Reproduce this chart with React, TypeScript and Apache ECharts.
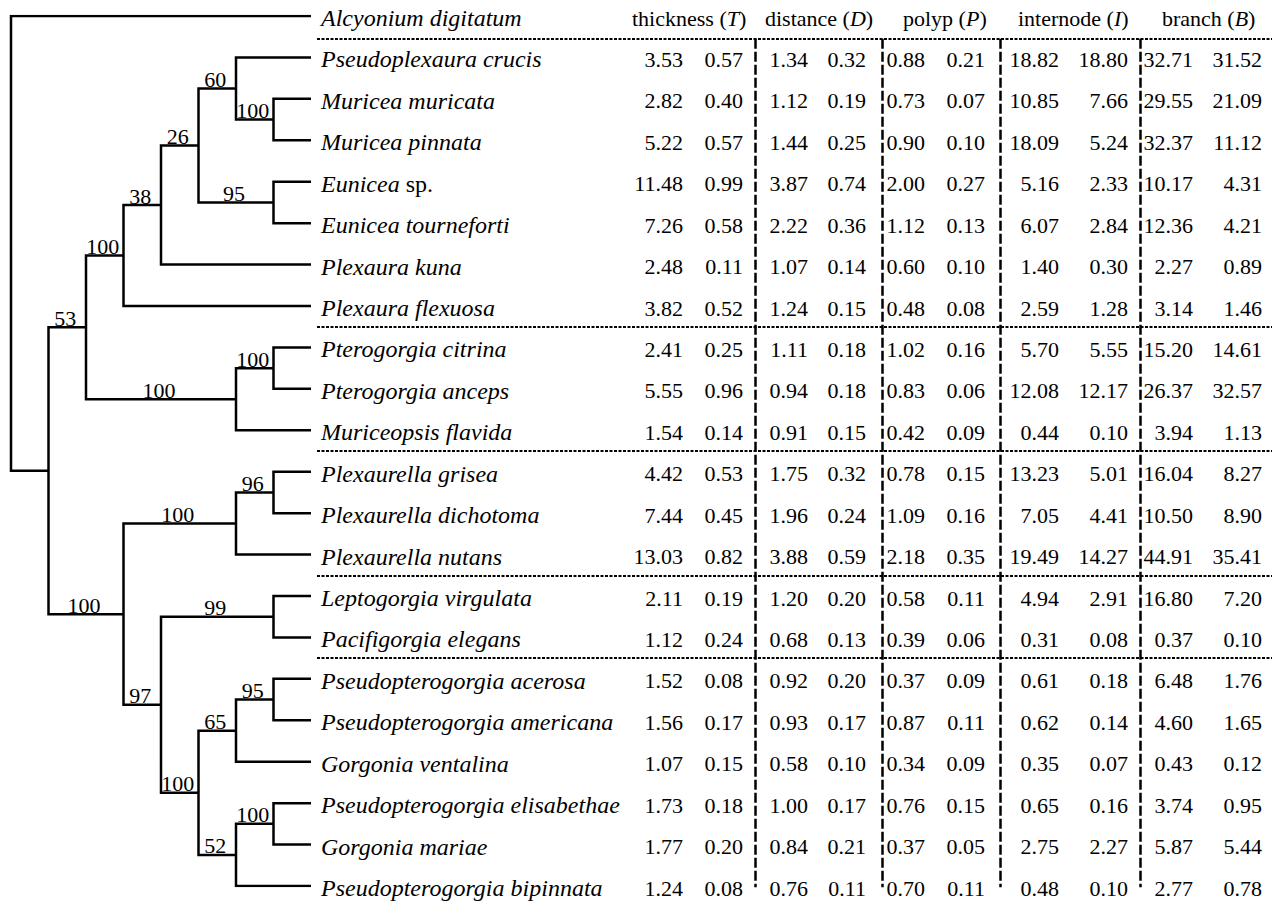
import React, { useEffect, useRef } from 'react';
import * as echarts from 'echarts';

// ---------- data ----------
const species = [
  'Alcyonium digitatum',
  'Pseudoplexaura crucis',
  'Muricea muricata',
  'Muricea pinnata',
  'Eunicea sp.',
  'Eunicea tourneforti',
  'Plexaura kuna',
  'Plexaura flexuosa',
  'Pterogorgia citrina',
  'Pterogorgia anceps',
  'Muriceopsis flavida',
  'Plexaurella grisea',
  'Plexaurella dichotoma',
  'Plexaurella nutans',
  'Leptogorgia virgulata',
  'Pacifigorgia elegans',
  'Pseudopterogorgia acerosa',
  'Pseudopterogorgia americana',
  'Gorgonia ventalina',
  'Pseudopterogorgia elisabethae',
  'Gorgonia mariae',
  'Pseudopterogorgia bipinnata',
];

const headerNames = ['thickness', 'distance', 'polyp', 'internode', 'branch'];
const headerSymbols = ['T', 'D', 'P', 'I', 'B'];

// rows 1..21 (Alcyonium has no values)
const thicknessMean = [3.53, 2.82, 5.22, 11.48, 7.26, 2.48, 3.82, 2.41, 5.55, 1.54, 4.42, 7.44, 13.03, 2.11, 1.12, 1.52, 1.56, 1.07, 1.73, 1.77, 1.24];
const thicknessSD = [0.57, 0.40, 0.57, 0.99, 0.58, 0.11, 0.52, 0.25, 0.96, 0.14, 0.53, 0.45, 0.82, 0.19, 0.24, 0.08, 0.17, 0.15, 0.18, 0.20, 0.08];
const distanceMean = [1.34, 1.12, 1.44, 3.87, 2.22, 1.07, 1.24, 1.11, 0.94, 0.91, 1.75, 1.96, 3.88, 1.20, 0.68, 0.92, 0.93, 0.58, 1.00, 0.84, 0.76];
const distanceSD = [0.32, 0.19, 0.25, 0.74, 0.36, 0.14, 0.15, 0.18, 0.18, 0.15, 0.32, 0.24, 0.59, 0.20, 0.13, 0.20, 0.17, 0.10, 0.17, 0.21, 0.11];
const polypMean = [0.88, 0.73, 0.90, 2.00, 1.12, 0.60, 0.48, 1.02, 0.83, 0.42, 0.78, 1.09, 2.18, 0.58, 0.39, 0.37, 0.87, 0.34, 0.76, 0.37, 0.70];
const polypSD = [0.21, 0.07, 0.10, 0.27, 0.13, 0.10, 0.08, 0.16, 0.06, 0.09, 0.15, 0.16, 0.35, 0.11, 0.06, 0.09, 0.11, 0.09, 0.15, 0.05, 0.11];
const internodeMean = [18.82, 10.85, 18.09, 5.16, 6.07, 1.40, 2.59, 5.70, 12.08, 0.44, 13.23, 7.05, 19.49, 4.94, 0.31, 0.61, 0.62, 0.35, 0.65, 2.75, 0.48];
const internodeSD = [18.80, 7.66, 5.24, 2.33, 2.84, 0.30, 1.28, 5.55, 12.17, 0.10, 5.01, 4.41, 14.27, 2.91, 0.08, 0.18, 0.14, 0.07, 0.16, 2.27, 0.10];
const branchMean = [32.71, 29.55, 32.37, 10.17, 12.36, 2.27, 3.14, 15.20, 26.37, 3.94, 16.04, 10.50, 44.91, 16.80, 0.37, 6.48, 4.60, 0.43, 3.74, 5.87, 2.77];
const branchSD = [31.52, 21.09, 11.12, 4.31, 4.21, 0.89, 1.46, 14.61, 32.57, 1.13, 8.27, 8.90, 35.41, 7.20, 0.10, 1.76, 1.65, 0.12, 0.95, 5.44, 0.78];

// tree: leaves are indices into species, s = bootstrap support
type TNode = number | { s?: number; c: TNode[] };
const tree: TNode = {
  c: [
    0,
    {
      c: [
        {
          s: 53,
          c: [
            {
              s: 100,
              c: [
                {
                  s: 38,
                  c: [
                    {
                      s: 26,
                      c: [
                        { s: 60, c: [1, { s: 100, c: [2, 3] }] },
                        { s: 95, c: [4, 5] },
                      ],
                    },
                    6,
                  ],
                },
                7,
              ],
            },
            { s: 100, c: [{ s: 100, c: [8, 9] }, 10] },
          ],
        },
        {
          s: 100,
          c: [
            { s: 100, c: [{ s: 96, c: [11, 12] }, 13] },
            {
              s: 97,
              c: [
                { s: 99, c: [14, 15] },
                {
                  s: 100,
                  c: [
                    { s: 65, c: [{ s: 95, c: [16, 17] }, 18] },
                    { s: 52, c: [{ s: 100, c: [19, 20] }, 21] },
                  ],
                },
              ],
            },
          ],
        },
      ],
    },
  ],
};

// ---------- layout constants (pixels) ----------
const W = 1283;
const H = 911;
const FONT = 'Liberation Serif';
const NAME_SIZE = 24;
const NUM_SIZE = 22;
const NAME_X = 321;
const HEADER_X = [632, 765, 903, 1018, 1162];
const COL_RIGHT = [683, 743, 808, 866, 925, 985, 1059, 1128, 1193, 1262];
const VLINE_X = [755, 882, 1000, 1140];
const HLINE_LEFT = 317;
const HLINE_RIGHT = 1272;
const HEADER_LINE_ROW = 0.55;
const GROUP_LINE_ROWS = [7.5, 10.5, 13.5, 15.5, 21.5];
const TEXT_DY = 2;

// ---------- tree layout ----------
function heightOf(n: TNode): number {
  if (typeof n === 'number') return 0;
  return 1 + Math.max(...n.c.map(heightOf));
}
const TREE_H = heightOf(tree);
const branches: { coords: number[][] }[] = [];
const supports: number[][] = [];
function walk(n: TNode, px: number | null): { x: number; y: number } {
  if (typeof n === 'number') return { x: TREE_H, y: n };
  const x = TREE_H - heightOf(n);
  const kids = n.c.map((k) => walk(k, x));
  const a = kids[0];
  const b = kids[kids.length - 1];
  const y = (a.y + b.y) / 2;
  branches.push({ coords: [[a.x, a.y], [x, a.y], [x, b.y], [b.x, b.y]] });
  if (n.s != null && px != null) supports.push([(px + x) / 2, y, n.s]);
  return { x, y };
}
walk(tree, null);

const columns = [thicknessMean, thicknessSD, distanceMean, distanceSD, polypMean, polypSD, internodeMean, internodeSD, branchMean, branchSD];
const cells: number[][] = [];
columns.forEach((col, c) => col.forEach((v, r) => cells.push([COL_RIGHT[c], r + 1, v])));

const richFont = (size: number) => ({
  r: { fontFamily: FONT, fontSize: size, fontStyle: 'normal', color: '#000' },
  i: { fontFamily: FONT, fontSize: size, fontStyle: 'italic', color: '#000' },
});

const nameText = (s: string) =>
  s.endsWith(' sp.') ? `{i|${s.slice(0, -4)}}{r| sp.}` : `{i|${s}}`;

const hLines = [HEADER_LINE_ROW, ...GROUP_LINE_ROWS].map((r) => ({ coords: [[HLINE_LEFT, r], [HLINE_RIGHT, r]] }));
const vLines = VLINE_X.map((x) => ({ coords: [[x, HEADER_LINE_ROW], [x, 21.65]] }));

const option: any = {
  animation: false,
  backgroundColor: '#fff',
  textStyle: { fontFamily: FONT },
  grid: [
    { left: 11, top: 16, width: 300, height: 870 },
    { left: 0, top: 16, width: W, height: 870 },
  ],
  xAxis: [
    { type: 'value', gridIndex: 0, min: 0, max: TREE_H, show: false },
    { type: 'value', gridIndex: 1, min: 0, max: W, show: false },
  ],
  yAxis: [
    { type: 'value', gridIndex: 0, min: 0, max: 21, inverse: true, show: false },
    { type: 'value', gridIndex: 1, min: 0, max: 21, inverse: true, show: false },
  ],
  series: [
    {
      type: 'lines',
      coordinateSystem: 'cartesian2d',
      xAxisIndex: 0,
      yAxisIndex: 0,
      polyline: true,
      silent: true,
      data: branches,
      lineStyle: { color: '#000', width: 2.5, opacity: 1, join: 'miter', cap: 'butt' },
    },
    {
      type: 'custom',
      xAxisIndex: 0,
      yAxisIndex: 0,
      silent: true,
      data: supports,
      renderItem: (params: any, api: any) => {
        const p = api.coord([api.value(0), api.value(1)]);
        return {
          type: 'text',
          x: p[0] - 2,
          y: p[1] + 2,
          style: {
            text: String(api.value(2)),
            fontFamily: FONT,
            fontSize: NUM_SIZE,
            fill: '#000',
            align: 'center',
            verticalAlign: 'bottom',
          },
        };
      },
    },
    {
      type: 'custom',
      xAxisIndex: 1,
      yAxisIndex: 1,
      silent: true,
      data: species.map((_, i) => [NAME_X, i]),
      renderItem: (params: any, api: any) => {
        const p = api.coord([api.value(0), api.value(1)]);
        return {
          type: 'text',
          x: p[0],
          y: p[1] + TEXT_DY,
          style: {
            text: nameText(species[params.dataIndex]),
            rich: richFont(NAME_SIZE),
            fontFamily: FONT,
            fontSize: NAME_SIZE,
            fontStyle: 'italic',
            fill: '#000',
            align: 'left',
            verticalAlign: 'middle',
          },
        };
      },
    },
    {
      type: 'custom',
      xAxisIndex: 1,
      yAxisIndex: 1,
      silent: true,
      data: HEADER_X.map((x) => [x, 0]),
      renderItem: (params: any, api: any) => {
        const p = api.coord([api.value(0), api.value(1)]);
        const i = params.dataIndex;
        return {
          type: 'text',
          x: p[0],
          y: p[1] + TEXT_DY,
          style: {
            text: `{r|${headerNames[i]} (}{i|${headerSymbols[i]}}{r|)}`,
            rich: richFont(NUM_SIZE),
            fontFamily: FONT,
            fontSize: NUM_SIZE,
            fill: '#000',
            align: 'left',
            verticalAlign: 'middle',
          },
        };
      },
    },
    {
      type: 'custom',
      xAxisIndex: 1,
      yAxisIndex: 1,
      silent: true,
      data: cells,
      renderItem: (params: any, api: any) => {
        const p = api.coord([api.value(0), api.value(1)]);
        return {
          type: 'text',
          x: p[0],
          y: p[1] + TEXT_DY,
          style: {
            text: Number(api.value(2)).toFixed(2),
            fontFamily: FONT,
            fontSize: NUM_SIZE,
            fill: '#000',
            align: 'right',
            verticalAlign: 'middle',
          },
        };
      },
    },
    {
      type: 'lines',
      coordinateSystem: 'cartesian2d',
      xAxisIndex: 1,
      yAxisIndex: 1,
      silent: true,
      data: hLines,
      lineStyle: { color: '#000', width: 2, opacity: 1, type: [3, 1.5] },
    },
    {
      type: 'lines',
      coordinateSystem: 'cartesian2d',
      xAxisIndex: 1,
      yAxisIndex: 1,
      silent: true,
      data: vLines,
      lineStyle: { color: '#000', width: 2.5, opacity: 1, type: [10, 3] },
    },
  ],
};

export default function App() {
  const ref = useRef<HTMLDivElement>(null);
  useEffect(() => {
    const chart = echarts.init(ref.current as HTMLDivElement, null, { renderer: 'svg' });
    chart.setOption(option);
    return () => chart.dispose();
  }, []);
  return (
    <div
      ref={ref}
      style={{ position: 'absolute', left: 0, top: 0, width: W, height: H, background: '#fff' }}
    />
  );
}
